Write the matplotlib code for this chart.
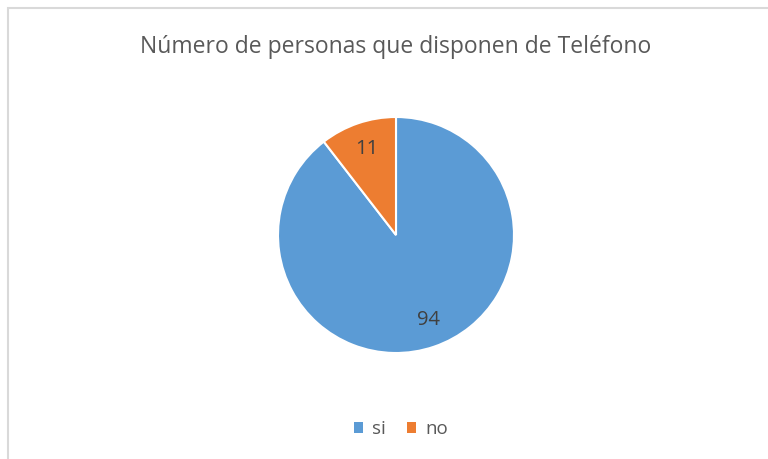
import numpy as np
import matplotlib.pyplot as plt
from matplotlib.patches import Rectangle

# --- Data ---
categories = ["si", "no"]
values = [94, 11]
colors = ["#5B9BD5", "#ED7D31"]
title = "Número de personas que disponen de Teléfono"

plt.rcParams['font.family'] = ['Open Sans', 'DejaVu Sans']

fig = plt.figure(figsize=(7.68, 4.59), dpi=100)

# chart border (light gray frame, cut off at right/bottom)
fig.patches.append(Rectangle((8 / 768, -0.05), 1.2, 1 - 8 / 459 + 0.05,
                             transform=fig.transFigure, fill=False,
                             edgecolor="#D9D9D9", linewidth=1.5))

cx, cy, r = 396 / 768, 1 - 235 / 459, 118
ax = fig.add_axes([cx - r / 768, cy - r / 459, 2 * r / 768, 2 * r / 459])

wedges, texts = ax.pie(values, colors=colors, startangle=90, counterclock=False,
                       wedgeprops=dict(edgecolor="white", linewidth=1.5))
ax.set_xlim(-1, 1)
ax.set_ylim(-1, 1)
ax.set_aspect("equal")

# value labels inside slices
for w, v in zip(wedges, values):
    ang = np.deg2rad((w.theta1 + w.theta2) / 2 + (2 if v > 50 else 0))
    ax.text(0.77 * np.cos(ang), 0.77 * np.sin(ang), str(v),
            ha="center", va="center", fontsize=14.5, color="#404040")

fig.text(396 / 768, 1 - 47 / 459, title, ha="center", va="center",
         fontsize=16.5, color="#595959")

handles = [Rectangle((0, 0), 1, 1, facecolor=c) for c in colors]
fig.legend(handles, categories, loc="center", bbox_to_anchor=(401 / 768, 1 - 429 / 459),
           ncol=2, frameon=False, fontsize=13.5, labelcolor="#595959",
           handlelength=0.5, handleheight=0.5, handletextpad=0.5, columnspacing=1.1)

fig.savefig("out.png", dpi=100)
